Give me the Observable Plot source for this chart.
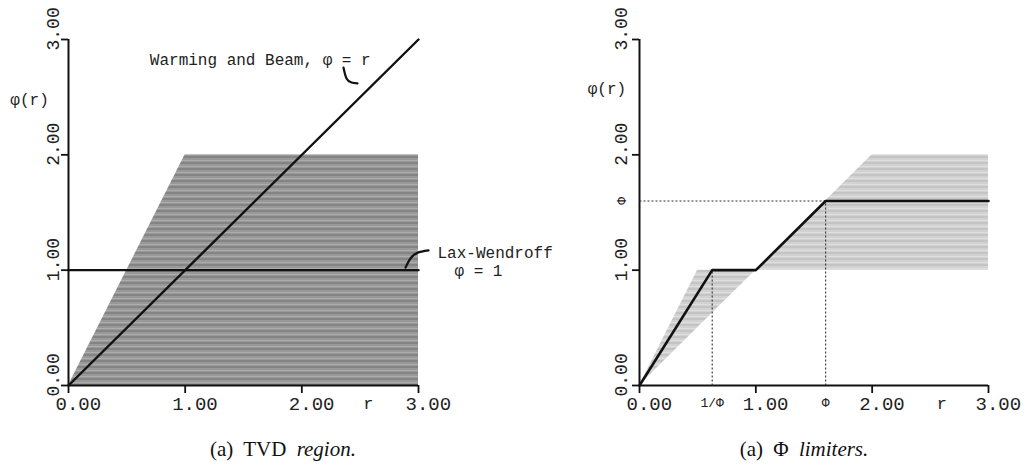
<!DOCTYPE html>
<html>
<head>
<meta charset="utf-8">
<script src="https://cdn.jsdelivr.net/npm/d3@7"></script>
<script src="https://cdn.jsdelivr.net/npm/@observablehq/plot@0.6"></script>
<style>
  html, body { margin: 0; padding: 0; background: #fff; }
  #wrap { position: relative; width: 1035px; height: 471px; background: #fff; overflow: hidden; }
  #wrap svg { position: absolute; top: 0; background: transparent; }
  #wrap svg [aria-label*="axis"] path, #wrap svg [aria-label*="axis"] line { stroke-width: 1.8px; stroke: #111; }
  .cap { position: absolute; top: 437px; font-family: "Liberation Serif", serif; font-size: 21px; color: #111;
         text-align: center; white-space: pre; word-spacing: 5px; }
  .cap i { font-style: italic; }
</style>
</head>
<body>
<div id="wrap">
  <div class="cap" style="left:183px; width:200px;">(a) TVD <i>region.</i></div>
  <div class="cap" style="left:704px; width:200px;">(a) Φ <i>limiters.</i></div>
</div>
<script>
// ---------- shared axis ticks ----------
const axisTicks = [0, 1, 2, 3];
const axisTickLabels = ["0.00", "1.00", "2.00", "3.00"];

// ---------- left panel: TVD region ----------
const tvdR = [0, 1, 3];          // upper boundary of TVD region
const tvdPhi = [0, 2, 2];
const laxR = [0, 3];             // Lax-Wendroff phi = 1
const laxPhi = [1, 1];
const wbR = [0, 3];              // Warming and Beam phi = r
const wbPhi = [0, 3];

// annotation anchors (data units)
const wbLabel = {r: 2.59, phi: 2.82, text: "Warming and Beam, φ = r"};
const wbHookR = [2.357, 2.383, 2.426, 2.477];
const wbHookPhi = [2.757, 2.662, 2.627, 2.619];
const laxLabel1 = {r: 3.163, phi: 1.153, text: "Lax-Wendroff"};
const laxLabel2 = {r: 3.514, phi: 0.997, text: "φ = 1"};
const laxHookR = [2.889, 2.93, 2.99, 3.086];
const laxHookPhi = [1.023, 1.10, 1.15, 1.171];
const leftYLabel = {r: -0.334, phi: 2.48, text: "φ(r)"};
const leftRLabel = {r: 2.57, phi: 0, text: "r"};

// ---------- right panel: Phi limiters ----------
const PHI = 1.6;
const regR = [0, 0.5, 1, 2, 3];       // second-order TVD region
const regLower = [0, 0.5, 1, 1, 1];
const regUpper = [0, 1, 1, 2, 2];
const limR = [0, 1 / PHI, 1, PHI, 3]; // Phi limiter
const limPhi = [0, 1, 1, PHI, PHI];
const guideX1 = [1 / PHI, PHI, 0];
const guideY1 = [0, 0, PHI];
const guideX2 = [1 / PHI, PHI, PHI];
const guideY2 = [1, PHI, PHI];
const rightSmallXTicks = [1 / PHI, PHI];
const rightSmallXLabels = ["1/Φ", "Φ"];
const rightSmallYTicks = [PHI];
const rightSmallYLabels = ["Φ"];
const rightYLabel = {r: -0.28, phi: 2.575, text: "φ(r)"};
const rightRLabel = {r: 2.6, phi: 0, text: "r"};

const mono = "Liberation Mono, DejaVu Sans Mono, monospace";

function pts(xs, ys) { return xs.map((x, i) => ({x, y: ys[i]})); }

function axisMarks(tickLabelsDy) {
  return [
    Plot.ruleY([0], {x1: 0, x2: 3, stroke: "#111", strokeWidth: 2}),
    Plot.ruleX([0], {y1: 0, y2: 3, stroke: "#111", strokeWidth: 2}),
    Plot.text(axisTicks, {x: d => d, y: () => 0, text: (d, i) => axisTickLabels[i],
      textAnchor: "start", dx: -13, dy: 18, fontFamily: mono, fontSize: 19, fill: "#222"}),
    Plot.text(axisTicks, {x: () => 0, y: d => d, text: (d, i) => axisTickLabels[i],
      rotate: -90, textAnchor: "start", dx: tickLabelsDy, dy: 11, fontFamily: mono, fontSize: 18, fill: "#222"})
  ];
}

const baseOpts = {
  height: 420, marginTop: 39, marginBottom: 35,
  x: {domain: [0, 3], ticks: axisTicks, tickSize: 8, tickFormat: () => "", label: null},
  y: {domain: [0, 3], ticks: axisTicks, tickSize: 7, tickFormat: () => "", label: null},
  style: {background: "transparent", overflow: "visible"}
};

// ---- left plot ----
const left = Plot.plot({
  ...baseOpts,
  width: 520, marginLeft: 68, marginRight: 102,
  marks: [
    Plot.areaY(pts(tvdR, tvdPhi), {x: "x", y1: 0, y2: "y", fill: "url(#stripeL)"}),
    ...axisMarks(-15),
    Plot.line(pts(laxR, laxPhi), {x: "x", y: "y", stroke: "#111", strokeWidth: 2.4}),
    Plot.line(pts(wbR, wbPhi), {x: "x", y: "y", stroke: "#111", strokeWidth: 2.4}),
    Plot.line(pts(wbHookR, wbHookPhi), {x: "x", y: "y", stroke: "#111", strokeWidth: 2.2, curve: "natural"}),
    Plot.line(pts(laxHookR, laxHookPhi), {x: "x", y: "y", stroke: "#111", strokeWidth: 2.2, curve: "natural"}),
    Plot.text([wbLabel], {x: "r", y: "phi", text: "text", textAnchor: "end", fontFamily: mono, fontSize: 16, fill: "#222"}),
    Plot.text([laxLabel1], {x: "r", y: "phi", text: "text", textAnchor: "start", fontFamily: mono, fontSize: 16, fill: "#222"}),
    Plot.text([laxLabel2], {x: "r", y: "phi", text: "text", textAnchor: "middle", fontFamily: mono, fontSize: 16, fill: "#222"}),
    Plot.text([leftYLabel], {x: "r", y: "phi", text: "text", fontFamily: mono, fontSize: 16, fill: "#222"}),
    Plot.text([leftRLabel], {x: "r", y: "phi", text: "text", dy: 18, fontFamily: mono, fontSize: 17, fill: "#222"})
  ]
});
left.style.left = "0px";

// ---- right plot ----
const right = Plot.plot({
  ...baseOpts,
  width: 515, marginLeft: 119, marginRight: 47,
  marks: [
    Plot.areaY(regR.map((r, i) => ({x: r, lo: regLower[i], hi: regUpper[i]})), {x: "x", y1: "lo", y2: "hi", fill: "url(#stripeR)"}),
    ...axisMarks(-18),
    Plot.link(guideX1.map((x, i) => ({x1: x, y1: guideY1[i], x2: guideX2[i], y2: guideY2[i]})),
      {x1: "x1", y1: "y1", x2: "x2", y2: "y2", stroke: "#333", strokeWidth: 1.1, strokeDasharray: "2,2"}),
    Plot.line(pts(limR, limPhi), {x: "x", y: "y", stroke: "#111", strokeWidth: 2.6}),
    Plot.text(rightSmallXTicks, {x: d => d, y: () => 0, text: (d, i) => rightSmallXLabels[i],
      dx: (0), dy: 17, fontFamily: mono, fontSize: 13, fill: "#222"}),
    Plot.text(rightSmallYTicks, {x: () => 0, y: d => d, text: (d, i) => rightSmallYLabels[i],
      rotate: -90, dx: -18, fontFamily: mono, fontSize: 13, fill: "#222"}),
    Plot.text([rightYLabel], {x: "r", y: "phi", text: "text", fontFamily: mono, fontSize: 16, fill: "#222"}),
    Plot.text([rightRLabel], {x: "r", y: "phi", text: "text", dy: 18, fontFamily: mono, fontSize: 17, fill: "#222"})
  ]
});
right.style.left = "520px";

// stripe patterns (halftone look of the scanned shading)
function addPattern(svg, id, base, dark, light) {
  const defs = d3.select(svg).insert("defs", ":first-child");
  const p = defs.append("pattern").attr("id", id).attr("patternUnits", "userSpaceOnUse")
    .attr("width", 12).attr("height", 6);
  p.append("rect").attr("width", 12).attr("height", 6).attr("fill", base);
  p.append("rect").attr("y", 0).attr("width", 12).attr("height", 2).attr("fill", dark);
  p.append("rect").attr("y", 4).attr("width", 12).attr("height", 1).attr("fill", light);
}
addPattern(left, "stripeL", "#999999", "#848484", "#acacac");
addPattern(right, "stripeR", "#d2d2d2", "#c4c4c4", "#dedede");

const wrap = document.getElementById("wrap");
wrap.appendChild(left);
wrap.appendChild(right);
</script>
</body>
</html>
